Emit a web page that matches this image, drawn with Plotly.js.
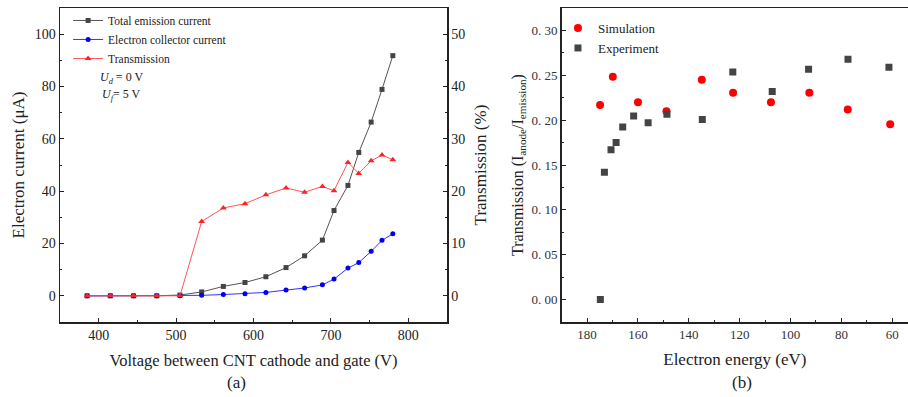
<!DOCTYPE html>
<html>
<head>
<meta charset="utf-8">
<script src="https://cdn.plot.ly/plotly-3.0.1.min.js"></script>
<style>html,body{margin:0;padding:0;background:#fff;}#chart{width:908px;height:397px;}</style>
</head>
<body>
<div id="chart"></div>
<script>
// Panel (a)
const voltage = [385, 415, 445, 475, 505, 533, 561, 589, 616, 642, 666, 689, 704, 722, 736, 752, 766, 780];
const totalEmission = [0, 0, 0, 0, 0.3, 1.5, 3.6, 5.1, 7.3, 10.8, 15.3, 21.3, 32.6, 42.2, 54.8, 66.4, 78.9, 91.8];
const collectorCurrent = [0, 0, 0, 0, 0, 0.2, 0.5, 0.8, 1.3, 2.2, 3.0, 4.2, 6.4, 10.6, 12.7, 17.0, 21.2, 23.7];
const transmissionPct = [0, 0, 0, 0, 0, 14.2, 16.8, 17.6, 19.3, 20.6, 19.8, 20.9, 20.1, 25.5, 23.4, 25.8, 26.9, 26.0];

// Panel (b)
const simEnergy = [174.9, 169.9, 160.0, 148.8, 134.9, 122.6, 107.7, 92.6, 77.5, 60.8];
const simTransmission = [0.217, 0.2485, 0.220, 0.210, 0.245, 0.2305, 0.220, 0.2305, 0.212, 0.1954];
const expEnergy = [174.8, 173.2, 170.6, 168.6, 166.0, 161.7, 156.0, 148.6, 134.7, 122.7, 107.2, 92.9, 77.4, 61.3];
const expTransmission = [0.000, 0.142, 0.167, 0.175, 0.1924, 0.2047, 0.197, 0.2066, 0.2007, 0.2537, 0.232, 0.2567, 0.268, 0.259];

const yTickValsB = [0, 0.05, 0.10, 0.15, 0.20, 0.25, 0.30];
const yTickTextB = ['0. 00', '0. 05', '0. 10', '0. 15', '0. 20', '0. 25', '0. 30'];

const serif = '"Liberation Serif", "Times New Roman", serif';
const axisColor = '#222';

const traces = [
  {x: voltage, y: totalEmission, name: 'Total emission current', type: 'scatter', mode: 'lines+markers',
   line: {color: '#555555', width: 1}, marker: {symbol: 'square', size: 5, color: '#444444'},
   xaxis: 'x', yaxis: 'y', legend: 'legend'},
  {x: voltage, y: collectorCurrent, name: 'Electron collector current', type: 'scatter', mode: 'lines+markers',
   line: {color: '#3333ff', width: 1}, marker: {symbol: 'circle', size: 5, color: '#0000ee'},
   xaxis: 'x', yaxis: 'y', legend: 'legend'},
  {x: voltage, y: transmissionPct, name: 'Transmission', type: 'scatter', mode: 'lines+markers',
   line: {color: '#ff5555', width: 1}, marker: {symbol: 'triangle-up', size: 6, color: '#ff2222'},
   xaxis: 'x', yaxis: 'y2', legend: 'legend'},
  {x: simEnergy, y: simTransmission, name: 'Simulation', type: 'scatter', mode: 'markers',
   marker: {symbol: 'circle', size: 8, color: '#ff0000'},
   xaxis: 'x3', yaxis: 'y3', legend: 'legend2'},
  {x: expEnergy, y: expTransmission, name: 'Experiment', type: 'scatter', mode: 'markers',
   marker: {symbol: 'square', size: 7, color: '#444444'},
   xaxis: 'x3', yaxis: 'y3', legend: 'legend2'}
];

const baseAxis = {
  showline: true, linecolor: axisColor, linewidth: 1.5, showgrid: false, zeroline: false,
  ticks: 'inside', ticklen: 4, tickwidth: 1, tickcolor: axisColor,
  tickfont: {family: serif, size: 14, color: '#222'}
};

const layout = {
  width: 908, height: 397,
  margin: {l: 0, r: 0, t: 0, b: 0},
  paper_bgcolor: '#fff', plot_bgcolor: '#fff',
  showlegend: true,
  font: {family: serif, color: '#222'},
  xaxis: Object.assign({}, baseAxis, {
    domain: [0.0661, 0.4923], range: [350, 850], anchor: 'y', mirror: true,
    tickvals: [400, 500, 600, 700, 800],
    minor: {ticks: 'inside', ticklen: 2, dtick: 50, tick0: 350, tickcolor: axisColor},
    title: {text: 'Voltage between CNT cathode and gate (V)', font: {family: serif, size: 16.5, color: '#222'}, standoff: 12}
  }),
  yaxis: Object.assign({}, baseAxis, {
    domain: [0.1889, 0.9798], range: [-10, 110], anchor: 'x',
    tickvals: [0, 20, 40, 60, 80, 100],
    minor: {ticks: 'inside', ticklen: 2, dtick: 10, tick0: 0, tickcolor: axisColor},
    title: {text: 'Electron current (μA)', font: {family: serif, size: 17, color: '#222'}, standoff: 6}
  }),
  yaxis2: Object.assign({}, baseAxis, {
    overlaying: 'y', side: 'right', anchor: 'x', range: [-5, 55],
    tickvals: [0, 10, 20, 30, 40, 50],
    minor: {ticks: 'inside', ticklen: 2, dtick: 5, tick0: 0, tickcolor: axisColor},
    title: {text: 'Transmission (%)', font: {family: serif, size: 17, color: '#222'}, standoff: 10}
  }),
  xaxis3: Object.assign({}, baseAxis, {
    domain: [0.6186, 1.0], range: [190, 53.8], anchor: 'y3', mirror: true,
    tickvals: [180, 160, 140, 120, 100, 80, 60],
    minor: {ticks: 'inside', ticklen: 2, dtick: 10, tick0: 0, tickcolor: axisColor},
    tickfont: {family: serif, size: 13, color: '#333'},
    title: {text: 'Electron energy (eV)', font: {family: serif, size: 17, color: '#222'}, standoff: 12}
  }),
  yaxis3: Object.assign({}, baseAxis, {
    domain: [0.1889, 0.9798], range: [-0.025, 0.325], anchor: 'x3',
    tickvals: yTickValsB, ticktext: yTickTextB,
    minor: {ticks: 'inside', ticklen: 2, dtick: 0.025, tick0: 0, tickcolor: axisColor},
    tickfont: {family: serif, size: 13, color: '#333'},
    title: {text: 'Transmission (I<sub>anode</sub>/I<sub>emission</sub>)', font: {family: serif, size: 16, color: '#222'}, standoff: 4}
  }),
  legend: {x: 0.075, y: 0.985, xanchor: 'left', yanchor: 'top', bgcolor: 'rgba(0,0,0,0)',
    font: {family: serif, size: 11.5, color: '#222'}, tracegroupgap: 0, itemwidth: 30},
  legend2: {x: 0.6145, y: 0.967, xanchor: 'left', yanchor: 'top', bgcolor: 'rgba(0,0,0,0)',
    font: {family: serif, size: 13, color: '#222'}, itemwidth: 30},
  annotations: [
    {xref: 'paper', yref: 'paper', x: 0.108, y: 1 - 78/397, xanchor: 'left', yanchor: 'middle', showarrow: false,
     text: '<i>U</i><sub><i>d</i></sub> = 0 V', font: {family: serif, size: 12, color: '#222'}},
    {xref: 'paper', yref: 'paper', x: 0.110, y: 1 - 95/397, xanchor: 'left', yanchor: 'middle', showarrow: false,
     text: '<i>U</i><sub><i>f</i></sub>= 5 V', font: {family: serif, size: 12, color: '#222'}},
    {xref: 'paper', yref: 'paper', x: 237/908, y: 1 - 382/397, xanchor: 'center', yanchor: 'middle', showarrow: false,
     text: '(a)', font: {family: serif, size: 17, color: '#222'}},
    {xref: 'paper', yref: 'paper', x: 742/908, y: 1 - 382/397, xanchor: 'center', yanchor: 'middle', showarrow: false,
     text: '(b)', font: {family: serif, size: 17, color: '#222'}}
  ]
};

Plotly.newPlot('chart', traces, layout, {displayModeBar: false, staticPlot: true});
</script>
</body>
</html>
